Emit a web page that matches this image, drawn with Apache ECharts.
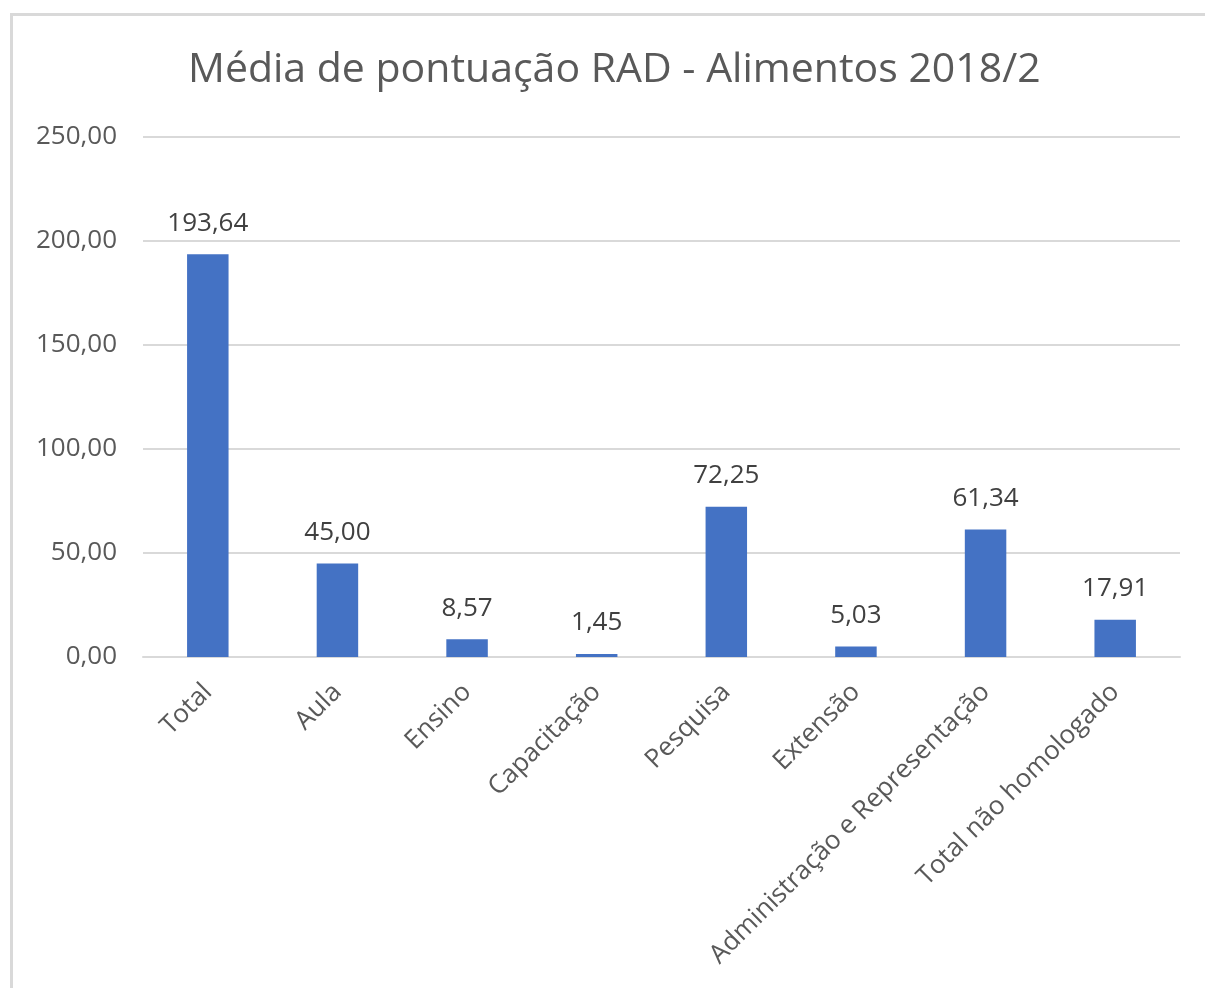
<!DOCTYPE html>
<html>
<head>
<meta charset="utf-8">
<script src="https://cdn.jsdelivr.net/npm/echarts@6/dist/echarts.min.js"></script>
<style>
html,body{margin:0;padding:0;background:#fff;}
#frame{position:absolute;left:10px;top:13px;width:1200px;height:990px;border-left:3px solid #d9d9d9;border-top:3px solid #d9d9d9;box-sizing:border-box;}
#chart{position:absolute;left:0;top:0;width:1205px;height:988px;}
</style>
</head>
<body>
<div id="frame"></div>
<div id="chart"></div>
<script>
const titleText = 'Média de pontuação RAD - Alimentos 2018/2';
const categories = ['Total','Aula','Ensino','Capacitação','Pesquisa','Extensão','Administração e Representação','Total não homologado'];
const values = [193.64, 45.00, 8.57, 1.45, 72.25, 5.03, 61.34, 17.91];
const yTicks = [0, 50, 100, 150, 200, 250];

const fmt = v => v.toFixed(2).replace('.', ',');
const FONT = 'Open Sans';

const chart = echarts.init(document.getElementById('chart'), null, {renderer:'canvas'});
chart.setOption({
  backgroundColor: 'transparent',
  animation: false,
  title: {
    text: titleText,
    left: 183,
    top: 45,
    textStyle: {fontFamily: FONT, fontSize: 41, fontWeight: 'normal', color: '#595959'}
  },
  grid: {left: 143, right: 25, top: 137, bottom: 331, containLabel: false},
  xAxis: {
    type: 'category',
    data: categories,
    axisLine: {show: true, lineStyle: {color: '#d9d9d9', width: 2}},
    axisTick: {show: false},
    axisLabel: {
      rotate: 45, margin: 31, interval: 0,
      fontFamily: FONT, fontSize: 26, color: '#595959'
    }
  },
  yAxis: {
    type: 'value',
    min: yTicks[0], max: yTicks[yTicks.length-1], interval: 50,
    axisLine: {show: false},
    axisTick: {show: false},
    splitLine: {lineStyle: {color: '#d9d9d9', width: 2}},
    axisLabel: {
      margin: 26, fontFamily: FONT, fontSize: 26, color: '#595959',
      formatter: v => fmt(v)
    }
  },
  series: [{
    type: 'bar',
    data: values,
    barWidth: '32%',
    itemStyle: {color: '#4472C4'},
    label: {
      show: true, position: 'top', distance: 18,
      fontFamily: FONT, fontSize: 26, color: '#404040',
      formatter: p => fmt(p.value)
    }
  }]
});
</script>
</body>
</html>
